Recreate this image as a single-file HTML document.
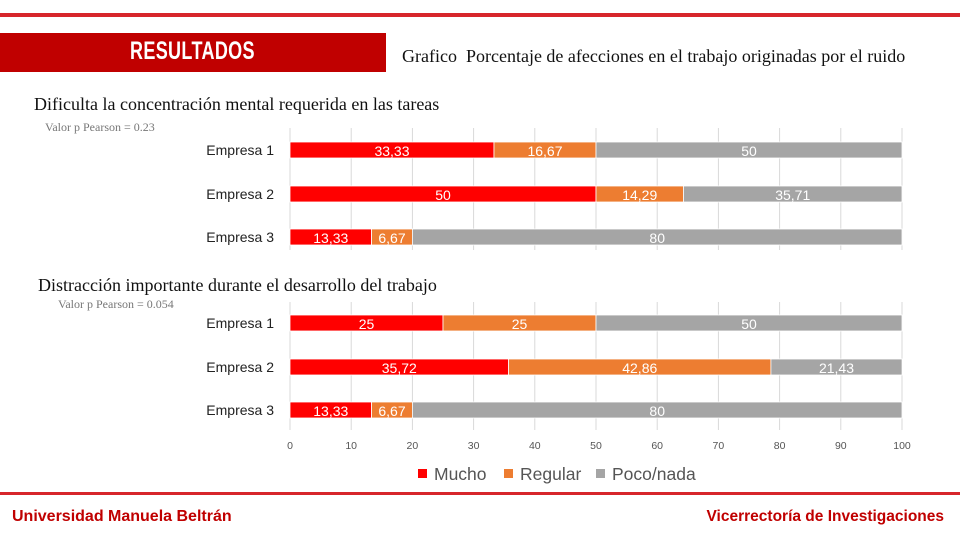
<!DOCTYPE html>
<html><head><meta charset="utf-8"><style>
body{margin:0;width:960px;height:540px;background:#fff;overflow:hidden;position:relative;font-family:"Liberation Sans",sans-serif}
.abs{position:absolute;white-space:nowrap}
.serif{font-family:"Liberation Serif",serif}
</style></head><body>
<div class="abs" style="left:0;top:13px;width:960px;height:4px;background:#d7262b"></div>
<div class="abs" style="left:0;top:33px;width:386px;height:39px;background:#c00000"></div>
<div class="abs" style="left:0;top:37px;width:386px;text-align:center;color:#fff;font-weight:bold;font-size:25px;transform:scaleX(0.72);transform-origin:191px 0;letter-spacing:0.5px">RESULTADOS</div>
<div class="abs serif" style="left:402px;top:46px;font-size:18px;color:#111">Grafico&nbsp; Porcentaje de afecciones en el trabajo originadas por el ruido</div>
<div class="abs serif" style="left:34px;top:94px;font-size:18px;color:#111">Dificulta la concentración mental requerida en las tareas</div>
<div class="abs serif" style="left:45px;top:120px;font-size:12px;color:#777">Valor p Pearson = 0.23</div>
<div class="abs serif" style="left:38px;top:275px;font-size:18px;color:#111">Distracción importante durante el desarrollo del trabajo</div>
<div class="abs serif" style="left:58px;top:297px;font-size:12px;color:#777">Valor p Pearson = 0.054</div>
<svg id="chart" class="abs" style="left:0;top:0" width="960" height="540"></svg>
<div class="abs" style="left:0;top:492px;width:960px;height:3px;background:#d7262b"></div>
<div class="abs" style="left:12px;top:508px;font-size:16px;font-weight:bold;color:#c00000">Universidad Manuela Beltrán</div>
<div class="abs" style="right:16px;top:508px;font-size:15.5px;font-weight:bold;color:#c00000">Vicerrectoría de Investigaciones</div>
<script>
const categories=["Empresa 1","Empresa 2","Empresa 3"];
const c1Mucho=[33.33,50,13.33];
const c1Regular=[16.67,14.29,6.67];
const c1Poco=[50,35.71,80];
const c2Mucho=[25,35.72,13.33];
const c2Regular=[25,42.86,6.67];
const c2Poco=[50,21.43,80];
const c1Labels=[["33,33","16,67","50"],["50","14,29","35,71"],["13,33","6,67","80"]];
const c2Labels=[["25","25","50"],["35,72","42,86","21,43"],["13,33","6,67","80"]];
const ticks=[0,10,20,30,40,50,60,70,80,90,100];
const seriesNames=["Mucho","Regular","Poco/nada"];
const colors=["#ff0000","#ed7d31","#a5a5a5"];
const NS="http://www.w3.org/2000/svg";
const svg=document.getElementById('chart');
const x=v=>290+v*6.12;
function mk(t,a){const e=document.createElementNS(NS,t);for(const k in a)e.setAttribute(k,a[k]);svg.appendChild(e);return e;}
function grid(y0,y1){ticks.forEach(t=>{const l=mk('line',{x1:x(t),x2:x(t),y1:y0,y2:y1,stroke:'#d9d9d9','stroke-width':1});

});}
grid(128,250);grid(302,430);
function panel(rows,series,labels,pfx){
rows.forEach((yc,i)=>{
const cl=mk('text',{x:274,y:yc+5,'text-anchor':'end','font-size':14,fill:'#222','font-family':'Liberation Sans, sans-serif'});
cl.textContent=categories[i];


let acc=0;
series.forEach((s,j)=>{const v=s[i];
const r=mk('rect',{x:x(acc),y:yc-8,width:x(acc+v)-x(acc),height:16,fill:colors[j],stroke:'#fff','stroke-width':0.8});


const tl=mk('text',{x:(x(acc)+x(acc+v))/2,y:yc+6,'text-anchor':'middle','font-size':14,fill:'#fff','font-family':'Liberation Sans, sans-serif'});
tl.textContent=labels[i][j];


acc+=v;});
});}
panel([150,194,237],[c1Mucho,c1Regular,c1Poco],c1Labels,'chart1');
panel([323,367,410],[c2Mucho,c2Regular,c2Poco],c2Labels,'chart2');
ticks.forEach(t=>{const tt=mk('text',{x:x(t),y:449,'text-anchor':'middle','font-size':10.5,fill:'#555','font-family':'Liberation Sans, sans-serif'});
tt.textContent=t;

});
const lx=[418,504,596];
seriesNames.forEach((n,j)=>{const r=mk('rect',{x:lx[j],y:469,width:9,height:9,fill:colors[j]});


const t=mk('text',{x:lx[j]+16,y:480,'font-size':17.5,fill:'#555','font-family':'Liberation Sans, sans-serif'});
t.textContent=n;

});
</script>
</body></html>
